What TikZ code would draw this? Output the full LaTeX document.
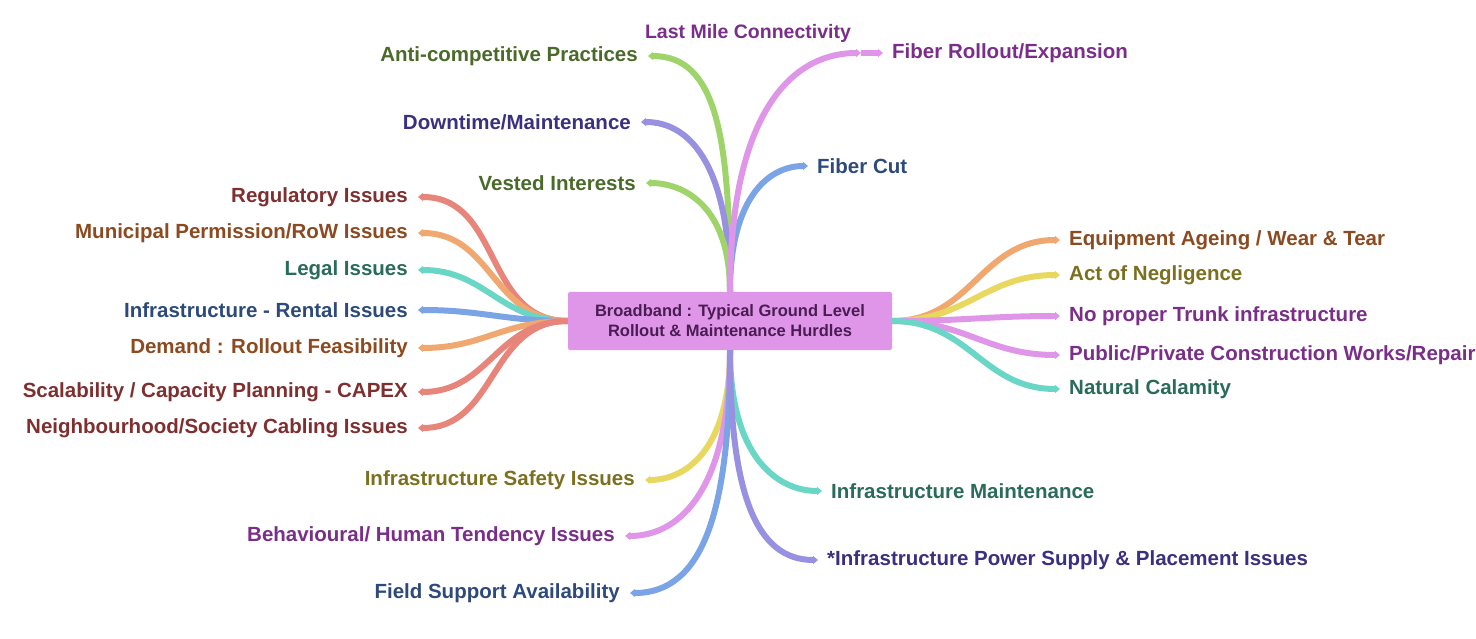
\documentclass[tikz,border=0pt]{standalone}
\usepackage{fontspec}
\setmainfont{Liberation Sans}
\usetikzlibrary{arrows.meta,positioning}
\definecolor{lred}{HTML}{E8857A}\definecolor{tred}{HTML}{7F2F2F}
\definecolor{lora}{HTML}{F0A870}\definecolor{tora}{HTML}{8C4A20}
\definecolor{ltea}{HTML}{6AD6C6}\definecolor{ttea}{HTML}{2A6B5A}
\definecolor{lblu}{HTML}{7BA4E6}\definecolor{tblu}{HTML}{2E4A7A}
\definecolor{lpin}{HTML}{E096E8}\definecolor{tpin}{HTML}{7A2E8A}
\definecolor{lyel}{HTML}{E8D860}\definecolor{tyel}{HTML}{7A7020}
\definecolor{lgrn}{HTML}{9ED46A}\definecolor{tgrn}{HTML}{4A6A2A}
\definecolor{lind}{HTML}{9890E0}\definecolor{tind}{HTML}{3A3080}
\tikzset{
    %Define standard arrow tip
    >={Triangle[length=5pt,width=8pt]},
    %Define style for the centre box
    hub/.style={
           rectangle,
           rounded corners=2pt,
           fill=lpin,
           minimum width=324pt,
           minimum height=58pt,
           text=tpin!60!black,
           font=\bfseries\fontsize{16.5}{20}\selectfont,
           align=center},
    % leaf texts
    leafl/.style={anchor=east,inner xsep=10pt,font=\bfseries\fontsize{20.5}{24}\selectfont},
    leafr/.style={anchor=west,inner xsep=9pt,font=\bfseries\fontsize{20.5}{24}\selectfont},
    % Define branch style
    br/.style={->,line width=6pt},
    vup/.style={out=90,out looseness=1.6,in looseness=0.7},
    vdn/.style={out=-90,out looseness=1.6,in looseness=0.7}
}
\begin{document}
\begin{tikzpicture}[x=1pt,y=-1pt]
\useasboundingbox (0,0) rectangle (1476,639);

\node[hub](hub) at (730,321){Broadband : Typical Ground Level\\Rollout \& Maintenance Hurdles};

% left
\node[leafl,text=tred] (reg) at (418,197){Regulatory Issues};
\node[leafl,text=tora] (mun) at (418,233){Municipal Permission/RoW Issues};
\node[leafl,text=ttea] (leg) at (418,270){Legal Issues};
\node[leafl,text=tblu] (ren) at (418,310){Infrastructure - Rental Issues};
\node[leafl,text=tora] (dem) at (418,348){Demand : Rollout Feasibility};
\node[leafl,text=tred] (sca) at (418,392){Scalability / Capacity Planning - CAPEX};
\node[leafl,text=tred] (nei) at (418,428){Neighbourhood/Society Cabling Issues};
\foreach \n/\c in {reg/lred,mun/lora,leg/ltea,ren/lblu,dem/lora,sca/lred,nei/lred}
  \draw[br,draw=\c] (hub.west) to[out=180,in=0,looseness=1.1] (\n.east);

% right
\node[leafr,text=tora] (equ) at (1060,240){Equipment Ageing / Wear \& Tear};
\node[leafr,text=tyel] (act) at (1060,275){Act of Negligence};
\node[leafr,text=tpin] (tru) at (1060,316){No proper Trunk infrastructure};
\node[leafr,text=tpin] (pub) at (1060,355){Public/Private Construction Works/Repair};
\node[leafr,text=ttea] (nat) at (1060,389){Natural Calamity};
\foreach \n/\c in {equ/lora,act/lyel,tru/lpin,pub/lpin,nat/ltea}
  \draw[br,draw=\c] (hub.east) to[out=0,in=180,looseness=1.1] (\n.west);

% top
\node[leafl,text=tgrn] (ant) at (648,56){Anti-competitive Practices};
\node[leafl,text=tind] (dow) at (641,122){Downtime/Maintenance};
\node[leafl,text=tgrn] (ves) at (646,183){Vested Interests};
\node[leafr,text=tblu] (cut) at (808,166){Fiber Cut};
\node[leafr,text=tpin] (fib) at (883,53){Fiber Rollout/Expansion};
\node[font=\bfseries\fontsize{19.5}{22}\selectfont,text=tpin] (las) at (748,33){Last Mile Connectivity};
\foreach \n/\c in {ant/lgrn,dow/lind,ves/lgrn}
  \draw[br,draw=\c] (hub.north) to[vup,in=0] (\n.east);
\draw[br,draw=lblu] (hub.north) to[vup,in=180] (cut.west);
\draw[br,draw=lpin] (hub.north) to[vup,in=180] ([xshift=-22pt]fib.west) coordinate (fibk);
\draw[br,draw=lpin] (fibk) -- (fib.west);

% bottom
\node[leafl,text=tyel] (saf) at (645,480){Infrastructure Safety Issues};
\node[leafl,text=tpin] (beh) at (625,536){Behavioural/ Human Tendency Issues};
\node[leafl,text=tblu] (fie) at (630,593){Field Support Availability};
\node[leafr,text=ttea] (mai) at (822,491){Infrastructure Maintenance};
\node[leafr,text=tind] (pow) at (818,560){*Infrastructure Power Supply \& Placement Issues};
\foreach \n/\c in {saf/lyel,beh/lpin,fie/lblu}
  \draw[br,draw=\c] (hub.south) to[vdn,in=0] (\n.east);
\foreach \n/\c in {mai/ltea,pow/lind}
  \draw[br,draw=\c] (hub.south) to[vdn,in=180] (\n.west);
\end{tikzpicture}
\end{document}
